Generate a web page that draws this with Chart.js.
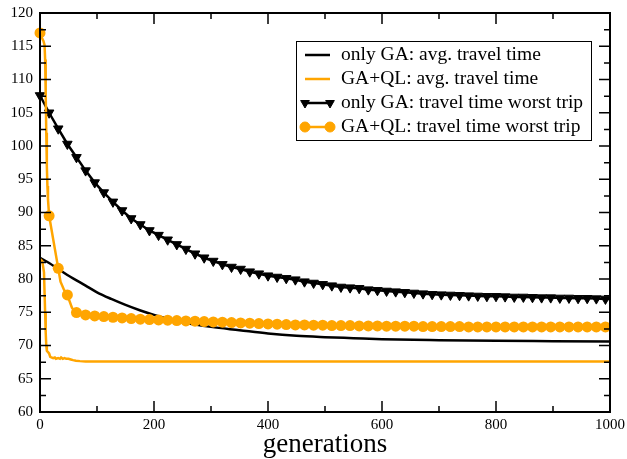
<!DOCTYPE html>
<html>
<head>
<meta charset="utf-8">
<script src="https://cdn.jsdelivr.net/npm/chart.js@4/dist/chart.umd.min.js"></script>
<style>
html,body{margin:0;padding:0;background:#fff;}
#wrap{width:627px;height:459px;position:relative;}
</style>
</head>
<body>
<div id="wrap"><canvas id="c" width="627" height="459"></canvas></div>
<script>
// ---- data ----
const seriesLabels = [
  'only GA: avg. travel time',
  'GA+QL: avg. travel time',
  'only GA: travel time worst trip',
  'GA+QL: travel time worst trip'
];
const xAxisTitle = 'generations';

const gaAvgGen = [0,16,32,48,64,80,100,125,150,175,200,225,250,300,350,400,450,500,550,600,700,800,900,1000];
const gaAvgVal = [83.2,82.4,81.5,80.6,79.8,79.0,78.0,77.0,76.1,75.3,74.6,74.0,73.5,72.8,72.3,71.8,71.45,71.25,71.1,70.95,70.8,70.7,70.65,70.6];

const qlAvgGen = [0,4,7,8,9,10,11,12,14,16,18,20,23,26,28,32,35,37,40,43,46,50,54,58,63,70,80,1000];
const qlAvgVal = [83.0,82.7,81.0,78.0,75.0,72.0,70.0,69.2,69.0,68.8,68.3,68.2,68.1,68.2,68.0,68.1,68.0,68.2,68.0,68.1,68.0,68.0,67.9,67.8,67.7,67.65,67.6,67.6];

const gaWorstGen = [0,16,32,48,64,80,96,112,128,144,160,176,192,208,224,240,256,272,288,304,320,336,352,368,384,400,416,432,448,464,480,496,512,528,544,560,576,592,608,624,640,656,672,688,704,720,736,752,768,784,800,816,832,848,864,880,896,912,928,944,960,976,992,1000];
const gaWorstVal = [107.6,105.0,102.6,100.3,98.3,96.3,94.5,93.0,91.6,90.3,
  89.1,88.2,87.3,86.6,85.9,85.2,84.5,83.8,83.2,82.7,
  82.2,81.8,81.5,81.1,80.8,80.5,80.3,80.1,79.9,79.6,
  79.4,79.2,79.0,78.8,78.7,78.6,78.4,78.3,78.2,78.1,
  78.0,77.9,77.8,77.7,77.65,77.6,77.55,77.5,77.45,77.4,
  77.4,77.35,77.3,77.3,77.25,77.2,77.2,77.15,77.15,77.1,
  77.1,77.05,77.0,77.0];

const qlWorstGen = [0,3,6,8,9,10,11,12,13,14,16,32,36,42,48,56,60,64,80,96,112,128,144,160,176,192,208,224,240,256,272,288,304,320,336,352,368,384,400,416,432,448,464,480,496,512,528,544,560,576,592,608,624,640,656,672,688,704,720,736,752,768,784,800,816,832,848,864,880,896,912,928,944,960,976,992,1000];
const qlWorstVal = [117.0,116.3,115.8,115.2,113.0,108.0,102.0,97.0,94.0,92.0,89.5,81.6,79.6,78.4,77.6,75.7,75.2,74.95,
  74.6,74.45,74.35,74.25,74.15,74.05,73.95,73.9,73.85,73.8,73.75,73.7,73.65,73.6,73.55,73.5,73.45,73.4,73.35,73.3,73.25,73.2,
  73.15,73.1,73.1,73.05,73.05,73.0,73.0,73.0,72.95,72.95,72.95,72.9,72.9,72.9,72.9,72.85,72.85,72.85,72.85,72.85,
  72.8,72.8,72.8,72.8,72.8,72.8,72.8,72.8,72.8,72.8,72.8,72.8,72.8,72.8,72.8,72.8,72.8];

const xMin = 0, xMax = 1000, xStep = 200;
const yMin = 60, yMax = 120, yStep = 5;

// ---- build ----
const pts = (g, v) => g.map((x, i) => ({x: x, y: v[i]}));
const ORANGE = '#FFA500';
const markerEvery = 16;
const markerRadius = (r) => (ctx) => {
  const raw = ctx.raw;
  return raw && raw.x % markerEvery === 0 ? r : 0;
};

const serif = "'Liberation Serif', 'Times New Roman', serif";

const framePlugin = {
  id: 'frameTicks',
  afterDraw(chart) {
    const {ctx, chartArea: a, scales: {x, y}} = chart;
    ctx.save();
    ctx.strokeStyle = '#000';
    ctx.lineWidth = 1.5;
    ctx.beginPath();
    const xt = x.ticks.map(t => t.value);
    xt.forEach((v, i) => {
      const p = x.getPixelForValue(v);
      ctx.moveTo(p, a.bottom); ctx.lineTo(p, a.bottom - 11);
      ctx.moveTo(p, a.top); ctx.lineTo(p, a.top + 11);
      if (i < xt.length - 1) {
        const m = x.getPixelForValue((v + xt[i + 1]) / 2);
        ctx.moveTo(m, a.bottom); ctx.lineTo(m, a.bottom - 6);
        ctx.moveTo(m, a.top); ctx.lineTo(m, a.top + 6);
      }
    });
    const yt = y.ticks.map(t => t.value);
    yt.forEach((v, i) => {
      const p = y.getPixelForValue(v);
      ctx.moveTo(a.left, p); ctx.lineTo(a.left + 11, p);
      ctx.moveTo(a.right, p); ctx.lineTo(a.right - 11, p);
      if (i < yt.length - 1) {
        const m = y.getPixelForValue((v + yt[i + 1]) / 2);
        ctx.moveTo(a.left, m); ctx.lineTo(a.left + 6, m);
        ctx.moveTo(a.right, m); ctx.lineTo(a.right - 6, m);
      }
    });
    ctx.stroke();
    ctx.lineWidth = 2;
    ctx.strokeRect(a.left, a.top, a.right - a.left, a.bottom - a.top);
    ctx.restore();
  }
};

const legendPlugin = {
  id: 'boxLegend',
  afterDraw(chart) {
    const {ctx} = chart;
    const bx = 296.5, by = 41.5, bw = 295, bh = 99;
    ctx.save();
    ctx.fillStyle = '#fff';
    ctx.fillRect(bx, by, bw, bh);
    ctx.strokeStyle = '#000';
    ctx.lineWidth = 1;
    ctx.strokeRect(bx, by, bw, bh);
    ctx.font = "19.5px " + serif;
    ctx.textBaseline = 'middle';
    ctx.textAlign = 'left';
    chart.data.datasets.forEach((ds, i) => {
      const cy = 55 + i * 24;
      const x0 = 305, x1 = 330;
      ctx.strokeStyle = ds.borderColor;
      ctx.lineWidth = 2.5;
      ctx.beginPath(); ctx.moveTo(x0, cy); ctx.lineTo(x1, cy); ctx.stroke();
      if (ds.legendMarker) {
        ctx.fillStyle = ds.borderColor;
        ctx.lineWidth = 1;
        [x0, x1].forEach(px => {
          Chart.helpers.drawPoint(ctx, {pointStyle: ds.pointStyle, rotation: ds.rotation || 0, radius: 5, borderWidth: 1}, px, cy);
        });
      }
      ctx.fillStyle = '#000';
      ctx.fillText(ds.label, 341, cy);
    });
    ctx.restore();
  }
};

const noOverflow = (s) => { s.paddingTop = 0; s.paddingBottom = 0; s.paddingLeft = 0; s.paddingRight = 0; };

new Chart(document.getElementById('c'), {
  type: 'line',
  data: {
    datasets: [
      {label: seriesLabels[0], data: pts(gaAvgGen, gaAvgVal), borderColor: '#000', borderWidth: 2.5,
       pointRadius: 0, cubicInterpolationMode: 'monotone', order: 3},
      {label: seriesLabels[1], data: pts(qlAvgGen, qlAvgVal), borderColor: ORANGE, borderWidth: 2.5,
       pointRadius: 0, order: 2},
      {label: seriesLabels[2], data: pts(gaWorstGen, gaWorstVal), borderColor: '#000', backgroundColor: '#000',
       borderWidth: 2.5, pointStyle: 'triangle', rotation: 180, pointRadius: markerRadius(5.5),
       pointBorderWidth: 1, legendMarker: true, order: 1},
      {label: seriesLabels[3], data: pts(qlWorstGen, qlWorstVal), borderColor: ORANGE, backgroundColor: ORANGE,
       borderWidth: 2.5, pointStyle: 'circle', pointRadius: markerRadius(5.5),
       pointBorderWidth: 0, legendMarker: true, order: 0}
    ]
  },
  options: {
    responsive: false,
    animation: false,
    clip: false,
    layout: {padding: {left: 0, right: 17, top: 13, bottom: 0}},
    plugins: {legend: {display: false}, tooltip: {enabled: false}},
    elements: {line: {tension: 0}},
    scales: {
      x: {
        type: 'linear', min: xMin, max: xMax,
        ticks: {stepSize: xStep, padding: 4, color: '#000', font: {family: serif, size: 15}, maxRotation: 0,
                callback: (v) => String(v)},
        grid: {display: false, drawTicks: false},
        border: {display: false},
        title: {display: true, text: xAxisTitle, color: '#000', font: {family: serif, size: 27}, padding: {top: 0, bottom: -2}},
        afterFit: (s) => { s.height = 47; noOverflow(s); }
      },
      y: {
        type: 'linear', min: yMin, max: yMax,
        ticks: {stepSize: yStep, padding: 7, color: '#000', font: {family: serif, size: 15}},
        grid: {display: false, drawTicks: false},
        border: {display: false},
        afterFit: (s) => { s.width = 40; noOverflow(s); }
      }
    }
  },
  plugins: [framePlugin, legendPlugin]
});
</script>
</body>
</html>
